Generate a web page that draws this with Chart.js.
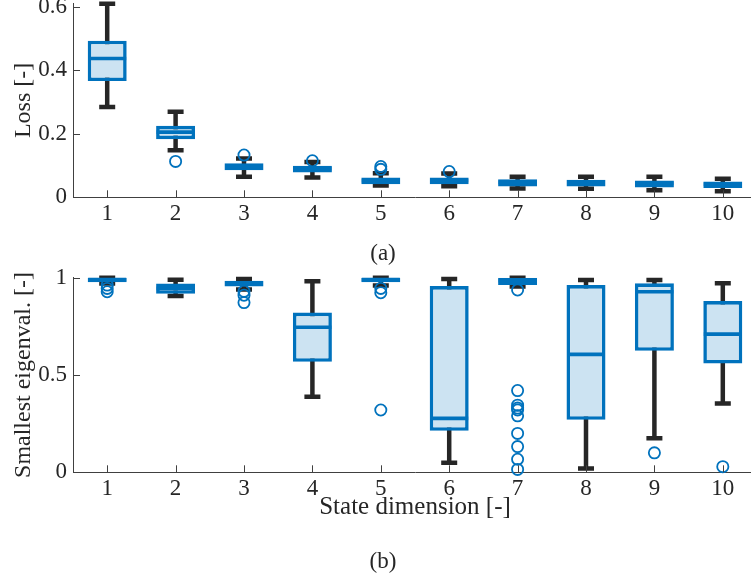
<!DOCTYPE html>
<html>
<head>
<meta charset="utf-8">
<script src="https://cdn.jsdelivr.net/npm/chart.js@4.4.0/dist/chart.umd.min.js"></script>
<style>
html,body{margin:0;padding:0;background:#fff;}
#wrap{position:relative;width:751px;height:577px;overflow:hidden;background:#fff;}
.cv{position:absolute;left:0;}
.cap{position:absolute;font-family:"Liberation Serif",serif;font-size:23px;color:#262626;transform:translate(-50%,-50%);white-space:nowrap;line-height:1;}
</style>
</head>
<body>
<div id="wrap">
  <canvas id="ca" class="cv" width="800" height="280" style="top:-40px"></canvas>
  <canvas id="cb" class="cv" width="800" height="337" style="top:240px"></canvas>
  <div class="cap" style="left:383px;top:252px">(a)</div>
  <div class="cap" style="left:383px;top:560px">(b)</div>
</div>
<script>
// ---------------- data ----------------
const categories = ['1','2','3','4','5','6','7','8','9','10'];

// (a) Loss
const lossTicks = [0, 0.2, 0.4, 0.6];
const lossTickLabels = ['0', '0.2', '0.4', '0.6'];
const lossQ1  = [0.366, 0.183, 0.085, 0.078, 0.041, 0.041, 0.034, 0.034, 0.031, 0.029];
const lossMed = [0.437, 0.205, 0.097, 0.090, 0.052, 0.053, 0.047, 0.046, 0.044, 0.041];
const lossQ3  = [0.493, 0.225, 0.107, 0.099, 0.062, 0.062, 0.057, 0.055, 0.053, 0.050];
const lossLo  = [0.284, 0.148, 0.065, 0.062, 0.037, 0.035, 0.028, 0.027, 0.022, 0.019];
const lossHi  = [0.609, 0.269, 0.122, 0.111, 0.076, 0.075, 0.065, 0.065, 0.065, 0.058];
const lossOut = [[], [0.113], [0.133], [0.115], [0.097, 0.088], [0.081], [], [], [], []];

// (b) Smallest eigenvalue
const eigTicks = [0, 0.5, 1];
const eigTickLabels = ['0', '0.5', '1'];
const eigQ1  = [0.976, 0.917, 0.955, 0.568, 0.976, 0.213, 0.962, 0.270, 0.624, 0.559];
const eigMed = [0.990, 0.945, 0.970, 0.745, 0.990, 0.277, 0.985, 0.606, 0.928, 0.710];
const eigQ3  = [1.000, 0.970, 0.984, 0.821, 1.000, 0.957, 1.000, 0.962, 0.971, 0.880];
const eigLo  = [0.970, 0.906, 0.940, 0.388, 0.960, 0.049, 0.955, 0.020, 0.175, 0.354];
const eigHi  = [1.000, 0.990, 0.993, 0.982, 1.000, 0.993, 1.000, 0.988, 0.988, 0.971];
const eigOut = [[0.962, 0.945, 0.928], [], [0.930, 0.910, 0.872], [], [0.945, 0.923, 0.320], [],
                [0.937, 0.420, 0.345, 0.330, 0.320, 0.290, 0.200, 0.132, 0.067, 0.015], [], [0.100], [0.029]];

// ---------------- style ----------------
const FONT = 'Liberation Serif';
const BLUE = '#0072BD';
const FILL = 'rgb(204,227,242)';
const DARK = '#262626';
const AXIS = '#404040';

const boxPlugin = {
  id: 'boxExtras',
  beforeDatasetsDraw(chart) {
    const st = chart.options.plugins.boxExtras;
    const ctx = chart.ctx, xs = chart.scales.x, ys = chart.scales.y;
    ctx.save();
    ctx.strokeStyle = DARK;
    ctx.lineWidth = 4.5;
    ctx.lineCap = 'butt';
    st.lo.forEach((lo, i) => {
      const x = xs.getPixelForValue(i);
      const yl = ys.getPixelForValue(lo), yh = ys.getPixelForValue(st.hi[i]);
      ctx.beginPath();
      ctx.moveTo(x, yl); ctx.lineTo(x, yh);
      ctx.stroke();
      ctx.beginPath();
      ctx.moveTo(x - 8, yl); ctx.lineTo(x + 8, yl);
      ctx.moveTo(x - 8, yh); ctx.lineTo(x + 8, yh);
      ctx.stroke();
    });
    ctx.restore();
  },
  afterDatasetDraw(chart, args) {
    if (args.index !== 0) return;
    const st = chart.options.plugins.boxExtras;
    const ctx = chart.ctx, xs = chart.scales.x, ys = chart.scales.y;
    ctx.save();
    ctx.strokeStyle = BLUE;
    ctx.lineWidth = 3.6;
    st.med.forEach((m, i) => {
      const x = xs.getPixelForValue(i);
      const y = ys.getPixelForValue(m);
      ctx.beginPath();
      ctx.moveTo(x - 19, y); ctx.lineTo(x + 19, y);
      ctx.stroke();
    });
    ctx.restore();
  },
  afterDraw(chart) {
    const ctx = chart.ctx, xs = chart.scales.x, ys = chart.scales.y, a = chart.chartArea;
    ctx.save();
    ctx.strokeStyle = AXIS;
    ctx.lineWidth = 1;
    ctx.beginPath();
    xs.ticks.forEach((t, i) => {
      const x = Math.round(xs.getPixelForValue(i)) + 0.5;
      ctx.moveTo(x, a.bottom); ctx.lineTo(x, a.bottom - 7);
    });
    ys.ticks.forEach(t => {
      const y = Math.round(ys.getPixelForValue(t.value)) + 0.5;
      ctx.moveTo(a.left, y); ctx.lineTo(a.left + 7, y);
    });
    ctx.stroke();
    ctx.restore();
  }
};

function makeBox(id, o) {
  const outPts = [];
  o.out.forEach((arr, i) => arr.forEach(v => outPts.push({x: categories[i], y: v})));
  return new Chart(document.getElementById(id), {
    type: 'bar',
    data: {
      labels: categories,
      datasets: [
        {
          type: 'bar',
          data: o.q1.map((v, i) => [v, o.q3[i]]),
          backgroundColor: FILL,
          borderColor: BLUE,
          borderWidth: 3.6,
          borderSkipped: false,
          barThickness: 39,
          inflateAmount: 0,
          grouped: false,
          order: 2
        },
        {
          type: 'scatter',
          data: outPts,
          pointStyle: 'circle',
          pointRadius: 5.6,
          borderColor: BLUE,
          borderWidth: 1.8,
          backgroundColor: 'rgba(0,0,0,0)',
          showLine: false,
          clip: false,
          order: 1
        }
      ]
    },
    options: {
      responsive: false,
      animation: false,
      events: [],
      layout: {padding: o.padding},
      plugins: {
        legend: {display: false},
        tooltip: {enabled: false},
        boxExtras: {lo: o.lo, hi: o.hi, med: o.med}
      },
      scales: {
        x: {
          type: 'category',
          offset: true,
          grid: {display: false, drawTicks: false},
          border: {display: true, color: AXIS, width: 1},
          ticks: {font: {family: FONT, size: 23}, color: DARK, padding: o.xPad, maxRotation: 0, autoSkip: false},
          title: o.xTitle ? {display: true, text: o.xTitle, font: {family: FONT, size: 25}, color: DARK, padding: {top: 0, bottom: 0}} : {display: false},
          afterFit(s) { s.height = o.xHeight; }
        },
        y: {
          type: 'linear',
          min: o.min, max: o.max,
          grid: {display: false, drawTicks: false},
          border: {display: true, color: AXIS, width: 1},
          ticks: {
            font: {family: FONT, size: 23}, color: DARK, padding: 6,
            callback: (v) => { const k = o.ticks.indexOf(v); return k >= 0 ? o.tickLabels[k] : ''; }
          },
          afterBuildTicks(s) { s.ticks = o.ticks.map(v => ({value: v})); },
          title: {display: true, text: o.yTitle, font: {family: FONT, size: 24}, color: DARK, padding: {top: 9, bottom: 0}},
          afterFit(s) { s.width = 73; }
        }
      }
    },
    plugins: [boxPlugin]
  });
}

function drawAll() {
  makeBox('ca', {
    q1: lossQ1, q3: lossQ3, med: lossMed, lo: lossLo, hi: lossHi, out: lossOut,
    ticks: lossTicks, tickLabels: lossTickLabels, min: 0, max: 0.61,
    yTitle: 'Loss [-]', xTitle: null,
    padding: {top: 43.5, left: 0, right: 43, bottom: 0},
    xHeight: 42.7, xPad: 3
  });
  makeBox('cb', {
    q1: eigQ1, q3: eigQ3, med: eigMed, lo: eigLo, hi: eigHi, out: eigOut,
    ticks: eigTicks, tickLabels: eigTickLabels, min: 0, max: 1,
    yTitle: 'Smallest eigenval. [-]', xTitle: 'State dimension [-]',
    padding: {top: 37.7, left: 0, right: 43, bottom: 54.6},
    xHeight: 50.1, xPad: 3
  });
}

let drawn = false;
function once() { if (!drawn) { drawn = true; drawAll(); } }
if (document.fonts && document.fonts.load) {
  Promise.all([
    document.fonts.load('23px "Liberation Serif"'),
    document.fonts.load('25px "Liberation Serif"')
  ]).then(once, once);
  setTimeout(once, 1500);
} else {
  once();
}
</script>
</body>
</html>
